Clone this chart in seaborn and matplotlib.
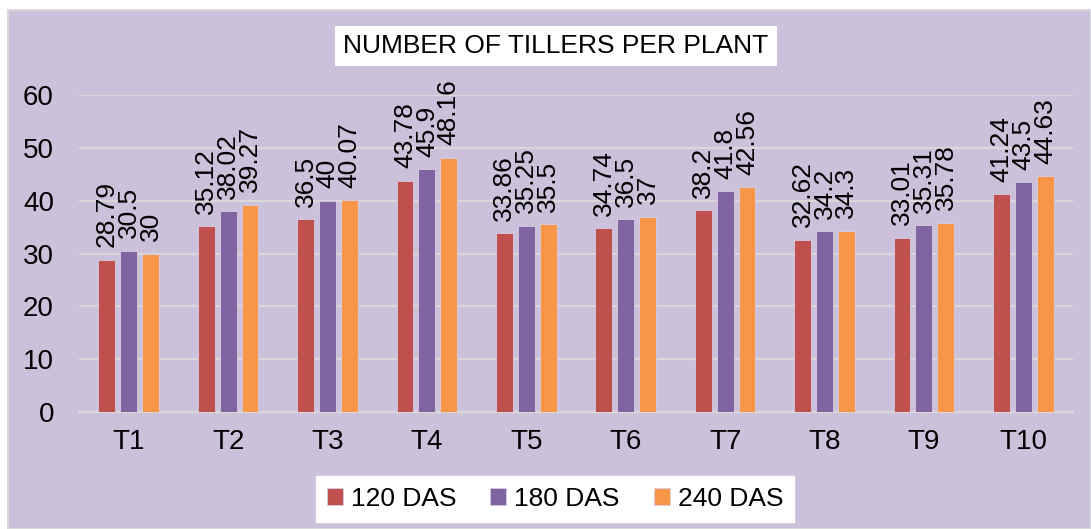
import pandas as pd
import matplotlib.pyplot as plt
import seaborn as sns
from matplotlib.patches import Rectangle

# datos
tratamientos = ['T1', 'T2', 'T3', 'T4', 'T5', 'T6', 'T7', 'T8', 'T9', 'T10']
das_120 = [28.79, 35.12, 36.5, 43.78, 33.86, 34.74, 38.2, 32.62, 33.01, 41.24]
das_180 = [30.5, 38.02, 40, 45.9, 35.25, 36.5, 41.8, 34.2, 35.31, 43.5]
das_240 = [30, 39.27, 40.07, 48.16, 35.5, 37, 42.56, 34.3, 35.78, 44.63]
series = ['120 DAS', '180 DAS', '240 DAS']
colores = ['#C0504D', '#8064A2', '#F79646']

df = pd.DataFrame({'Tratamiento': tratamientos,
                   '120 DAS': das_120, '180 DAS': das_180, '240 DAS': das_240})
df = df.melt(id_vars='Tratamiento', var_name='Serie', value_name='Valor')

fondo = '#CCC1DA'
plt.rcParams['font.family'] = ['Liberation Sans', 'DejaVu Sans']

fig = plt.figure(figsize=(10.91, 5.29), dpi=100, facecolor='white')
fig.patches.append(Rectangle((8 / 1091, 0), 1 - 8 / 1091, 1 - 10 / 529,
                             transform=fig.transFigure, facecolor=fondo,
                             edgecolor='#D9D9D9', linewidth=1.5, zorder=-5))

ax = fig.add_axes([79 / 1091, 1 - 412 / 529, (1073 - 79) / 1091, (412 - 95) / 529])
ax.set_facecolor(fondo)

sns.barplot(data=df, x='Tratamiento', y='Valor', hue='Serie', hue_order=series,
            palette=colores, width=0.66, gap=0.23, ax=ax, errorbar=None,
            saturation=1, edgecolor='#D8CCE4', linewidth=0.6, zorder=3)

# etiquetas de valores
for cont in ax.containers:
    ax.bar_label(cont, labels=[f'{v:g}' for v in cont.datavalues],
                 rotation=90, padding=9, fontsize=19, clip_on=False)

ax.set_ylim(0, 60)
ax.set_yticks(range(0, 61, 10))
ax.set_xlim(-0.5, 9.5)
ax.yaxis.grid(True, color='#D9D9D9', linewidth=1.5, zorder=0)
ax.set_axisbelow(True)
for s in ['top', 'right', 'left']:
    ax.spines[s].set_visible(False)
ax.spines['bottom'].set_color('#D9D9D9')
ax.spines['bottom'].set_linewidth(1.5)
ax.tick_params(axis='both', length=0, labelsize=20)
ax.tick_params(axis='x', pad=12)
ax.tick_params(axis='y', pad=18)
ax.set_xlabel('')
ax.set_ylabel('')

# titulo en caja blanca
fig.text(556 / 1091, 1 - 46 / 529, 'NUMBER OF TILLERS PER PLANT', ha='center', va='center',
         fontsize=19, bbox=dict(facecolor='white', edgecolor='none', boxstyle='square,pad=0.3'))

ax.legend(loc='center', bbox_to_anchor=(555 / 1091, 1 - 499 / 529),
          bbox_transform=fig.transFigure, ncol=3, frameon=True, fancybox=False,
          edgecolor='white', framealpha=1, fontsize=19, handlelength=0.6, handleheight=0.6,
          handletextpad=0.3, columnspacing=1.3, borderpad=0.4)

plt.savefig('out.png', dpi=100, facecolor=fig.get_facecolor())
plt.close()
